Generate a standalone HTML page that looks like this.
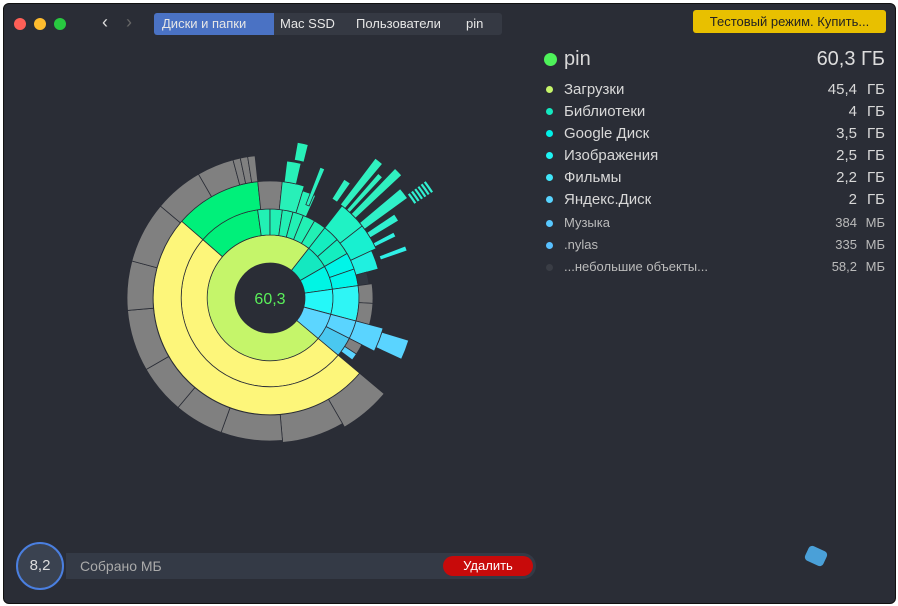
<!DOCTYPE html>
<html><head><meta charset="utf-8"><style>
body{margin:0;width:898px;height:606px;background:#fff;position:relative;overflow:hidden;font-family:"Liberation Sans","Noto Sans CJK SC",sans-serif}
.win{position:absolute;left:3px;top:3px;width:891px;height:599px;background:#2a2d36;border-radius:6px;border:1px solid #111}
.dot{position:absolute;top:14px;width:12px;height:12px;border-radius:50%}
.crumb{position:absolute;top:9px;height:22px;line-height:22px;font-size:13px;color:#e6e6e6;background:#353943}
.lg{position:absolute;left:540px;width:345px;height:22px;color:#d8d8d8;font-size:15px}
.lg .d{position:absolute;left:6px;top:7px;width:7px;height:7px;border-radius:50%}
.lg .n{position:absolute;left:24px;top:2px}
.lg .v{position:absolute;right:28px;top:2px}
.lg .u{position:absolute;right:0;top:2px}
.sm{font-size:13px;color:#bbb}
</style></head><body>
<div class="win">
<div class="dot" style="left:10px;background:#fe5f57"></div>
<div class="dot" style="left:30px;background:#febc2e"></div>
<div class="dot" style="left:50px;background:#28c840"></div>
<div style="position:absolute;left:98px;top:8px;color:#ddd;font-size:18px">&#8249;</div>
<div style="position:absolute;left:122px;top:8px;color:#666;font-size:18px">&#8250;</div>
<div class="crumb" style="left:150px;width:112px;background:#4a72c4;border-radius:3px 0 0 3px;padding-left:8px">Диски и папки</div>
<div class="crumb" style="left:270px;width:70px;padding-left:6px">Mac SSD</div>
<div class="crumb" style="left:346px;width:100px;padding-left:6px">Пользователи</div>
<div class="crumb" style="left:452px;width:36px;padding-left:10px;border-radius:0 3px 3px 0">pin</div>
<div style="position:absolute;left:689px;top:6px;width:193px;height:23px;background:#e8c000;border-radius:3px;color:#222;font-size:13px;line-height:23px;text-align:center">Тестовый режим. Купить...</div>
</div>

<svg id="sv" width="898" height="606" style="position:absolute;left:0;top:0"></svg>

<div class="lg" style="top:47px;height:26px;font-size:20px"><div class="d" style="width:13px;height:13px;left:4px;top:6px;background:#4ef25a"></div><div class="n" style="left:24px;top:1px">pin</div><div class="u" style="top:1px;color:#ddd">60,3 ГБ</div></div>
<div class="lg" style="top:79px"><div class="d" style="background:#c5f56a"></div><div class="n">Загрузки</div><div class="v">45,4</div><div class="u">ГБ</div></div>
<div class="lg" style="top:101px"><div class="d" style="background:#14e8c0"></div><div class="n">Библиотеки</div><div class="v">4</div><div class="u">ГБ</div></div>
<div class="lg" style="top:123px"><div class="d" style="background:#00f0e8"></div><div class="n">Google Диск</div><div class="v">3,5</div><div class="u">ГБ</div></div>
<div class="lg" style="top:145px"><div class="d" style="background:#1ef4f4"></div><div class="n">Изображения</div><div class="v">2,5</div><div class="u">ГБ</div></div>
<div class="lg" style="top:167px"><div class="d" style="background:#40e6fa"></div><div class="n">Фильмы</div><div class="v">2,2</div><div class="u">ГБ</div></div>
<div class="lg" style="top:189px"><div class="d" style="background:#58d4ff"></div><div class="n">Яндекс.Диск</div><div class="v">2</div><div class="u">ГБ</div></div>
<div class="lg sm" style="top:213px"><div class="d" style="background:#58c8ff"></div><div class="n">Музыка</div><div class="v">384</div><div class="u">МБ</div></div>
<div class="lg sm" style="top:235px"><div class="d" style="background:#58c0ff"></div><div class="n">.nylas</div><div class="v">335</div><div class="u">МБ</div></div>
<div class="lg sm" style="top:257px"><div class="d" style="background:#3a3d45"></div><div class="n">...небольшие объекты...</div><div class="v">58,2</div><div class="u">МБ</div></div>

<div style="position:absolute;left:16px;top:542px;width:44px;height:44px;border-radius:50%;border:2px solid #4a7fe0;background:#3a4250;color:#ddd;font-size:15px;line-height:44px;text-align:center">8,2</div>
<div style="position:absolute;left:66px;top:553px;width:470px;height:26px;background:#343a46;border-radius:0 13px 13px 0"></div>
<div style="position:absolute;left:80px;top:558px;color:#aaa;font-size:14px">Собрано МБ</div>
<div style="position:absolute;left:443px;top:556px;width:90px;height:20px;background:#c80a0a;border-radius:10px;color:#fff;font-size:13px;line-height:20px;text-align:center">Удалить</div>
<div style="position:absolute;left:806px;top:548px;width:20px;height:16px;background:#4aa0d8;border-radius:4px;transform:rotate(25deg)"></div>

<script>
var cx=270,cy=298,s='';
function p(a,r){var t=a*Math.PI/180;return (cx+r*Math.cos(t)).toFixed(2)+','+(cy+r*Math.sin(t)).toFixed(2);}
function seg(r0,r1,a0,a1,c){var l=(a1-a0)>180?1:0;
s+='<path d="M'+p(a0,r0)+'L'+p(a0,r1)+'A'+r1+','+r1+' 0 '+l+' 1 '+p(a1,r1)+'L'+p(a1,r0)+'A'+r0+','+r0+' 0 '+l+' 0 '+p(a0,r0)+'Z" fill="'+c+'" stroke="#2a2d36" stroke-width="0.8"/>';}
var Y='#fdf67a',G='#808080',GR='#00f07a';
seg(35,63,40,308,'#c5f56a');
seg(35,63,308,330,'#14e8c0');seg(35,63,330,352,'#00f5e4');seg(35,63,352,375,'#25f8f8');seg(35,63,15,40,'#5cd6ff');
seg(63,89,40,221,Y);seg(89,117,40,221,Y);
seg(63,89,221,262,GR);seg(89,117,221,264,GR);
[[262,270],[270,278],[278,285],[285,292],[292,300],[300,308]].forEach(function(a){seg(63,89,a[0],a[1],'#22f0b4');});
seg(89,117,264,276,G);seg(89,117,276,287,'#28f0b8');seg(89,112,287,294,'#28f0b8');
seg(63,89,308,319,'#14eec0');seg(63,89,319,330,'#14eec0');seg(89,117,308,322,'#20f2c4');seg(89,117,322,335,'#18f0d0');
seg(63,89,330,341,'#00f5e8');seg(63,89,341,352,'#00f5ea');seg(89,112,335,345,'#20f0e0');seg(89,100,345,352,'#333842');
seg(63,89,352,375,'#2ff5f5');seg(89,103,352,363,G);seg(89,103,363,375,G);
seg(63,89,15,27,'#5ad4ff');seg(89,117,15,27,'#5ad4ff');seg(117,145,17,25,'#5ad4ff');
seg(63,89,27,40,'#4ac8f0');seg(89,103,27,33,G);seg(89,103,33,37,'#5ad4ff');
seg(117,149,40,60,G);seg(117,145,60,85,G);seg(117,143,85,110,G);seg(117,143,110,130,G);seg(117,143,130,150,G);
seg(117,143,150,175,G);seg(117,143,175,195,G);seg(117,143,195,220,G);seg(117,143,220,240,G);
seg(117,143,240,255,G);seg(117,143,255,258,G);seg(117,143,258,261,G);seg(117,143,261,264,G);
var sp=[[277,283,117,138,'#28f0b8'],[280,284,140,158,'#28f0b8'],[291,293,100,140,'#2cf0c0'],
[302,305,117,140,'#30f0c0'],[307,310,117,175,'#30f0c0'],[311,313,117,165,'#30f0c0'],[314,317,117,180,'#30f0c0'],
[320,324,117,170,'#30f0c8'],[326,329,117,150,'#30f0d0'],[332,334,117,140,'#30f0e0'],[339,341,117,145,'#30f0e8']];
sp.forEach(function(q){seg(q[2],q[3],q[0],q[1],q[4]);});
for(var i=0;i<6;i++){seg(172+i*4,175+i*4,323,327,'#30f0d0');}
s+='<text x="270" y="304" text-anchor="middle" font-family="Liberation Sans,sans-serif" font-size="16" fill="#5af05a">60,3</text>';
document.getElementById('sv').innerHTML=s;
</script>
</body></html>
